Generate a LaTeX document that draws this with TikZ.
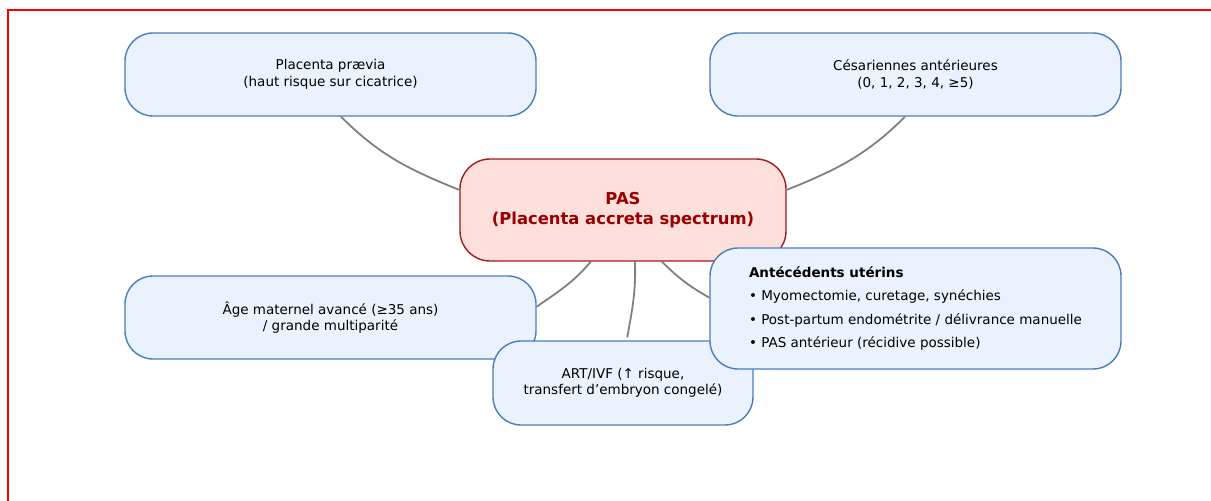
\documentclass[tikz,border=0pt]{standalone}
\usepackage{fontspec}
\setmainfont{DejaVu Sans}
\usetikzlibrary{topaths}

\definecolor{riskfill}{HTML}{E9F2FD}
\definecolor{riskline}{HTML}{4A7EBB}
\definecolor{pasfill}{HTML}{FDDFDC}
\definecolor{pasline}{HTML}{A31A1A}
\definecolor{pastext}{HTML}{990000}
\definecolor{linkgray}{HTML}{808080}

\begin{document}
\begin{tikzpicture}[x=1pt,y=1pt,
  risk/.style={draw=riskline, fill=riskfill, line width=1.4, rounded corners=28,
    minimum width=411, minimum height=83, inner sep=0, align=center,
    font=\fontsize{13.5}{16.5}\selectfont},
  pasbox/.style={draw=pasline, fill=pasfill, line width=1.4, rounded corners=30,
    minimum width=326, minimum height=102, inner sep=0, align=center,
    text=pastext, font=\fontsize{16.4}{19.5}\selectfont\bfseries},
  link/.style={draw=linkgray, line width=1.8}]

\useasboundingbox (0,0) rectangle (1211,-501);

%frame
\draw[red, line width=2] (8,-501) |- (1211,-10);

%PAS
\node[pasbox] (pas) at (623,-210) {PAS\\(Placenta accreta spectrum)};

%facteurs
\node[risk] (placenta) at (330.5,-74.5) {Placenta prævia\\(haut risque sur cicatrice)};
\node[risk] (ces) at (915.5,-74.5) {Césariennes antérieures\\(0, 1, 2, 3, 4, ≥5)};
\node[risk] (age) at (330.5,-317.5) {Âge maternel avancé (≥35 ans)\\/ grande multiparité};
\node[risk, minimum width=260, minimum height=84] (art) at (623,-383)
  {ART/IVF (↑ risque,\\transfert d’embryon congelé)};
\node[risk, minimum height=121, align=left, font=\fontsize{13.5}{23.5}\selectfont] (ant) at (915.5,-308.5)
  {\textbf{Antécédents utérins}\\
   • Myomectomie, curetage, synéchies\\
   • Post-partum endométrite / délivrance manuelle\\
   • PAS antérieur (récidive possible)};

%liens
\draw[link] (pas.173) to[out=158, in=-45] (placenta.-76);
\draw[link] (pas.7) to[out=22, in=-135] (ces.-104);
\draw[link] (pas.-122) to[out=-130, in=35] (age.3);
\draw[link, shorten >=3] (pas.-77) to[out=-88, in=80] (art.85);
\draw[link] (pas.-53) to[out=-45, in=150] (ant.177);

\end{tikzpicture}
\end{document}
